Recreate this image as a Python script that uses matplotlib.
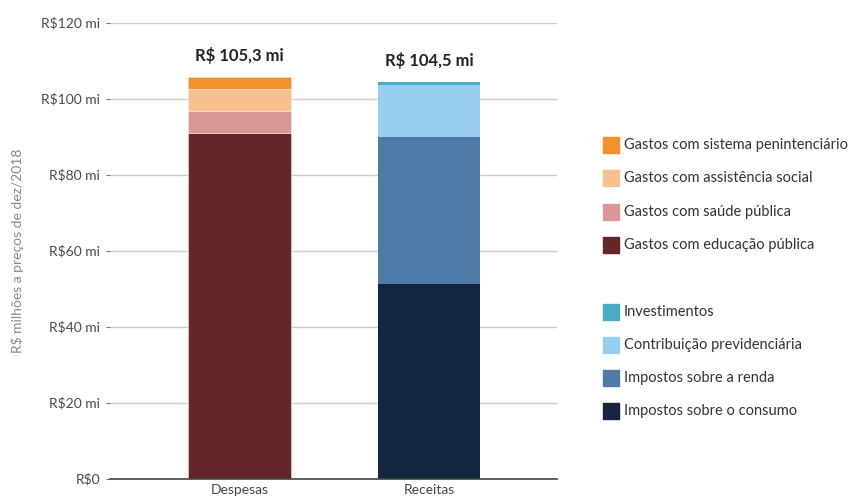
import matplotlib
matplotlib.use("Agg")
import matplotlib.pyplot as plt
from matplotlib.patches import Rectangle

plt.rcParams["font.family"] = ["Lato", "DejaVu Sans"]

# values in R$ milhões (stack order bottom -> top)
categories = ["Despesas", "Receitas"]
totals = ["R$ 105,3 mi", "R$ 104,5 mi"]

desp_labels = ["Gastos com educação pública", "Gastos com saúde pública",
               "Gastos com assistência social", "Gastos com sistema penintenciário"]
desp_values = [90.9, 5.9, 5.8, 3.2]
desp_colors = ["#642527", "#DB9796", "#F8C08E", "#F3912B"]

rec_labels = ["Impostos sobre o consumo", "Impostos sobre a renda",
              "Contribuição previdenciária", "Investimentos"]
rec_values = [51.2, 38.8, 13.7, 0.8]
rec_colors = ["#14253F", "#4F79A7", "#97CEF0", "#4AABC6"]

yticks = [0, 20, 40, 60, 80, 100, 120]
ytick_labels = ["R$0", "R$20 mi", "R$40 mi", "R$60 mi", "R$80 mi", "R$100 mi", "R$120 mi"]

W, H = 851, 497
fig = plt.figure(figsize=(W / 100, H / 100), dpi=100)
ax = fig.add_axes([110 / W, (H - 478.7) / H, 447 / W, 456 / H])

width = 0.54
edges = ["#f4e6e6", "none"]
for xi, (vals, cols) in enumerate([(desp_values, desp_colors), (rec_values, rec_colors)]):
    bottom = 0
    for v, c in zip(vals, cols):
        ax.bar(xi, v, width, bottom=bottom, color=c, edgecolor=edges[xi], linewidth=0.4, zorder=3)
        bottom += v
    ax.annotate(totals[xi], (xi, bottom), xytext=(0, 9), textcoords="offset points",
                ha="center", va="bottom", fontsize=12, fontweight="bold", color="#222222")

ax.set_xlim(-0.683, 1.675)
ax.set_ylim(0, 120)
ax.set_yticks(yticks)
ax.set_yticklabels(ytick_labels)
ax.set_xticks([0, 1])
ax.set_xticklabels(categories)
ax.tick_params(axis="y", length=3, width=0.8, color="#777777", labelsize=10,
               labelcolor="#4a4a4a", pad=4)
ax.tick_params(axis="x", length=0, labelsize=10, labelcolor="#444444", pad=4)
ax.grid(axis="y", color="#cccccc", lw=1.0, zorder=0)
for s in ["top", "right", "left"]:
    ax.spines[s].set_visible(False)
ax.spines["bottom"].set_color("#444444")
ax.spines["bottom"].set_linewidth(1.2)
ax.spines["bottom"].set_zorder(4)
ax.set_ylabel("R$ milhões a preços de dez/2018", fontsize=10, color="#888888")
ax.yaxis.set_label_coords(-0.192, 0.5)

# legend, manual layout on the right
legend_rows = list(zip(reversed(desp_labels), reversed(desp_colors))) + [None] + \
    list(zip(reversed(rec_labels), reversed(rec_colors)))
y0, step = 145, 33.3
for i, row in enumerate(legend_rows):
    if row is None:
        continue
    label, color = row
    yc = y0 + i * step
    fig.patches.append(Rectangle((603 / W, (H - yc - 8) / H), 16 / W, 16 / H,
                                 transform=fig.transFigure, color=color))
    fig.text(624 / W, (H - yc) / H, label, fontsize=10.5, color="#333333", va="center", ha="left")

fig.savefig("out.png", dpi=100)
